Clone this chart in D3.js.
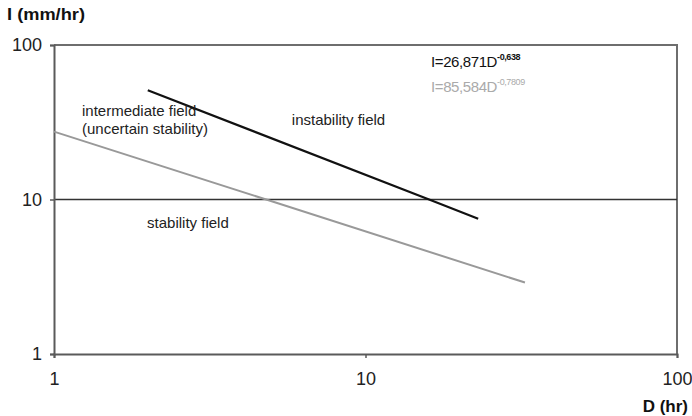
<!DOCTYPE html>
<html><head><meta charset="utf-8">
<script src="https://cdn.jsdelivr.net/npm/d3@7"></script>
<style>body{margin:0;background:#fff}svg{display:block}text{font-family:"Liberation Sans",Arial,sans-serif}</style>
</head><body>
<svg id="c" width="692" height="416"></svg>
<script>
const xTicks = [1, 10, 100];
const yTicks = [1, 10, 100];
const blackD = [2, 16, 23];
const blackI = [51, 10, 7.5];
const grayD = [1, 4.8, 32.5];
const grayI = [27.5, 10, 2.9];
const gridI = [10];
const fieldLabels = [
  {text: "intermediate field", D: 1.23, I: 34.7},
  {text: "(uncertain stability)", D: 1.23, I: 26.5},
  {text: "instability field", D: 5.8, I: 30.4},
  {text: "stability field", D: 1.99, I: 6.54}
];

const svg = d3.select("#c");
const L = 54, R = 677, T = 45, B = 354;
const x = d3.scaleLog().domain([1, 100]).range([L, R]);
const y = d3.scaleLog().domain([1, 100]).range([B, T]);

// frame top/right
svg.append("path").attr("d", `M${L},${T}H${R}V${B}`).attr("fill","none").attr("stroke","#6e6e6e").attr("stroke-width",2);

// grid line at 10
svg.selectAll(".grid").data(gridI).enter().append("line")
  .attr("x1", L).attr("x2", R).attr("y1", d=>y(d)).attr("y2", d=>y(d))
  .attr("stroke","#333").attr("stroke-width",1.5);

// axes
const xa = svg.append("g").attr("transform",`translate(0,${B})`)
  .call(d3.axisBottom(x).tickValues(xTicks).tickFormat(d3.format("d")).tickSize(4).tickPadding(14));
const ya = svg.append("g").attr("transform",`translate(${L},0)`)
  .call(d3.axisLeft(y).tickValues(yTicks).tickFormat(d3.format("d")).tickSize(4).tickPadding(8));
[xa, ya].forEach(g => {
  g.select(".domain").attr("stroke","#5a5a5a").attr("stroke-width",2);
  g.selectAll(".tick line").attr("stroke","#5a5a5a").attr("stroke-width",1.5);
  g.selectAll(".tick text").attr("font-size",18).attr("fill","#222").attr("font-family","Liberation Sans, Arial, sans-serif");
});

// lines
const line = d3.line().x(d=>x(d[0])).y(d=>y(d[1]));
svg.append("path").datum(grayD.map((d,i)=>[d, grayI[i]])).attr("d", line)
  .attr("fill","none").attr("stroke","#999").attr("stroke-width",2);
svg.append("path").datum(blackD.map((d,i)=>[d, blackI[i]])).attr("d", line)
  .attr("fill","none").attr("stroke","#111").attr("stroke-width",2.2);

// field labels
svg.selectAll(".fl").data(fieldLabels).enter().append("text")
  .attr("x", d=>x(d.D)).attr("y", d=>y(d.I)).attr("font-size",15).attr("fill","#222")
  .text(d=>d.text);

// equations
const eq1 = svg.append("text").attr("x",431).attr("y",67).attr("font-size",15).attr("fill","#111").attr("letter-spacing","-0.4");
eq1.append("tspan").text("I=26,871D");
eq1.append("tspan").attr("dy",-7).attr("font-size",9).attr("font-weight","bold").text("-0,638");
const eq2 = svg.append("text").attr("x",431).attr("y",92).attr("font-size",15).attr("fill","#aaa").attr("letter-spacing","-0.4");
eq2.append("tspan").text("I=85,584D");
eq2.append("tspan").attr("dy",-7).attr("font-size",9).text("-0,7809");

// axis titles
svg.append("text").attr("x",7).attr("y",20).attr("font-size",17).attr("font-weight","bold").attr("fill","#111")
  .attr("textLength",78).attr("lengthAdjust","spacingAndGlyphs").text("I (mm/hr)");
svg.append("text").attr("x",688).attr("y",412).attr("text-anchor","end").attr("font-size",17).attr("font-weight","bold").attr("fill","#111").text("D (hr)");
</script>
</body></html>
